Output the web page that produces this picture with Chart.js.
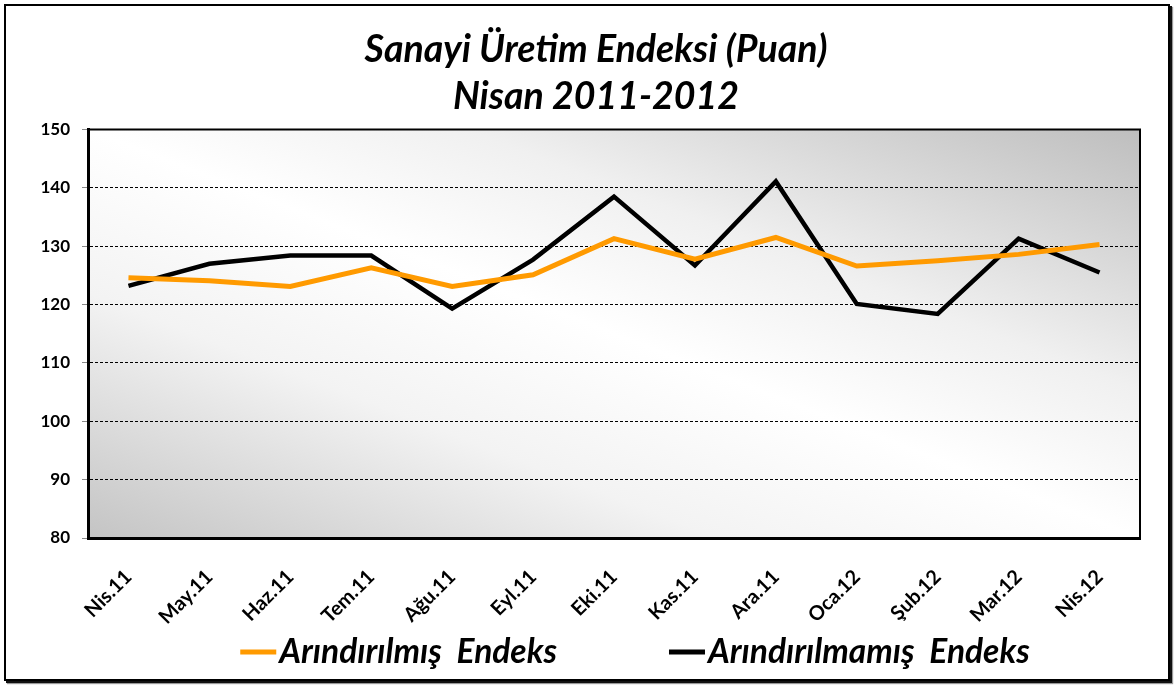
<!DOCTYPE html>
<html lang="tr">
<head>
<meta charset="utf-8">
<title>Sanayi Üretim Endeksi</title>
<script src="https://cdn.jsdelivr.net/npm/chart.js@4.4.1/dist/chart.umd.min.js"></script>
<style>
  html, body { margin: 0; padding: 0; background: #fff; }
  #cerceve {
    position: absolute; left: 4px; top: 4px; width: 1162px; height: 673px;
    border: 2px solid #000;
    box-shadow: 2px 2px 0 #111, 3px 3px 1px #999;
  }
  #kap { position: absolute; left: 0; top: 0; width: 1176px; height: 687px; }
</style>
</head>
<body>
<div id="cerceve"></div>
<div id="kap"><canvas id="grafiek"></canvas></div>
<script>
"use strict";

// aylar (x ekseni)
const aylar = ['Nis.11', 'May.11', 'Haz.11', 'Tem.11', 'Ağu.11', 'Eyl.11', 'Eki.11',
               'Kas.11', 'Ara.11', 'Oca.12', 'Şub.12', 'Mar.12', 'Nis.12'];

// endeks degerleri
const arindirilmis = [124.6, 124.1, 123.1, 126.3, 123.1, 125.1, 131.3, 127.8, 131.5, 126.6, 127.5, 128.6, 130.3];
const arindirilmamis = [123.2, 127.0, 128.4, 128.4, 119.3, 127.7, 138.5, 126.7, 141.1, 120.1, 118.4, 131.3, 125.5];

const seriAdlari = ['Arındırılmış  Endeks', 'Arındırılmamış  Endeks'];
const kleur = ['#FF9A00', '#000000'];

const yMin = 80;
const yMax = 150;
const yStap = 10;

const basliklar = ['Sanayi Üretim Endeksi (Puan)', 'Nisan 2011-2012'];

const lettertype = 'Lato, "Open Sans", sans-serif';

// grafik alani arka plani: capraz gri-beyaz-gri gecis
const achtergrond = {
    id: 'achtergrond',
    beforeDraw(chart) {
        const {ctx, chartArea: a} = chart;
        const w = a.right - a.left;
        const h = a.bottom - a.top;
        const s = 2 * w * h / (w * w + h * h);
        const g = ctx.createLinearGradient(a.left, a.bottom, a.left + s * h, a.bottom - s * w);
        g.addColorStop(0, '#c4c4c4');
        g.addColorStop(0.3, '#f3f3f3');
        g.addColorStop(0.5, '#ffffff');
        g.addColorStop(0.68, '#f0f0f0');
        g.addColorStop(1, '#bebebe');
        ctx.save();
        ctx.fillStyle = g;
        ctx.fillRect(a.left, a.top, w, h);
        ctx.restore();
    },
    afterDatasetsDraw(chart) {
        // ust ve sag kenar
        const {ctx, chartArea: a} = chart;
        ctx.save();
        ctx.strokeStyle = '#000';
        ctx.lineWidth = 2;
        ctx.beginPath();
        ctx.moveTo(a.left, a.top);
        ctx.lineTo(a.right, a.top);
        ctx.lineTo(a.right, a.bottom);
        ctx.stroke();
        ctx.restore();
    }
};

// alttaki lejant (ogeler arasi genis bosluk)
const lejant = {
    id: 'lejant',
    afterDraw(chart) {
        const ctx = chart.ctx;
        const y = 652;
        const kutu = 36;
        const arasi = 3;
        const bosluk = 112;
        ctx.save();
        ctx.font = 'italic bold 33.5px ' + lettertype;
        ctx.textBaseline = 'middle';
        const genislik = chart.data.datasets.map(ds => kutu + arasi + ctx.measureText(ds.label).width);
        const toplam = genislik.reduce((a, b) => a + b, 0) + bosluk * (genislik.length - 1);
        let x = 635 - toplam / 2;
        chart.data.datasets.forEach((ds, i) => {
            ctx.strokeStyle = ds.borderColor;
            ctx.lineWidth = 5;
            ctx.beginPath();
            ctx.moveTo(x, y);
            ctx.lineTo(x + kutu, y);
            ctx.stroke();
            ctx.fillStyle = '#000';
            ctx.fillText(ds.label, x + kutu + arasi, y);
            x += genislik[i] + bosluk;
        });
        ctx.restore();
    }
};

const ctx = document.getElementById('grafiek');

const config = {
    type: 'line',
    data: {
        labels: aylar,
        datasets: [
            {
                label: seriAdlari[0],
                data: arindirilmis,
                borderColor: kleur[0],
                backgroundColor: kleur[0],
                borderWidth: 5,
                pointRadius: 0,
                tension: 0,
                fill: false
            },
            {
                label: seriAdlari[1],
                data: arindirilmamis,
                borderColor: kleur[1],
                backgroundColor: kleur[1],
                borderWidth: 4.5,
                pointRadius: 0,
                tension: 0,
                fill: false
            }
        ]
    },
    options: {
        responsive: true,
        maintainAspectRatio: false,
        animation: false,
        layout: {
            // titel moet rond x=596 staan, grafiekvlak 88..1140
            padding: {left: 16, right: 0, top: 0, bottom: 0}
        },
        plugins: {
            legend: {display: false},
            tooltip: {enabled: false},
            title: {
                display: true,
                text: basliklar,
                color: '#000',
                font: {family: lettertype, size: 37.5, weight: 'bold', style: 'italic', lineHeight: 1.26},
                padding: {top: 26, bottom: 9}
            }
        },
        scales: {
            x: {
                offset: true,
                grid: {display: false, drawTicks: false},
                border: {display: true, color: '#000', width: 3},
                ticks: {
                    color: '#000',
                    font: {family: lettertype, size: 20, weight: 'bold'},
                    minRotation: 45,
                    maxRotation: 45,
                    padding: 27,
                    autoSkip: false
                },
                afterFit(scale) { scale.height = 149; }
            },
            y: {
                min: yMin,
                max: yMax,
                grid: {color: '#000', lineWidth: 1, tickLength: 6, tickColor: '#888'},
                border: {display: true, color: '#000', width: 3, dash: [3, 2]},
                ticks: {
                    stepSize: yStap,
                    color: '#000',
                    font: {family: lettertype, size: 17, weight: 'bold'},
                    padding: 12
                },
                afterFit(scale) { scale.width = 72; }
            },
            // lege ruimte rechts van het grafiekvlak
            rechts: {
                type: 'linear',
                position: 'right',
                display: true,
                grid: {display: false, drawTicks: false},
                border: {display: false},
                ticks: {display: false},
                afterFit(scale) { scale.width = 36; }
            }
        }
    },
    plugins: [achtergrond, lejant]
};

const chart = new Chart(ctx, config);
</script>
</body>
</html>
